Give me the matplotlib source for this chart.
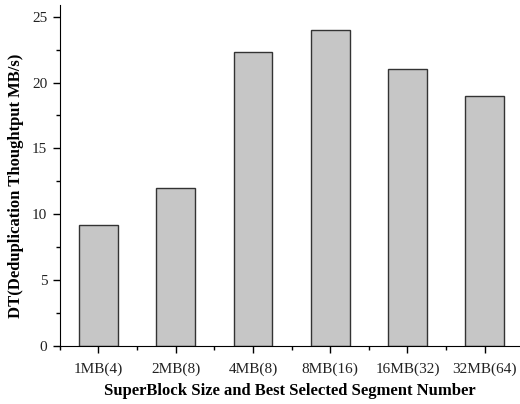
import matplotlib
matplotlib.use('Agg')
import matplotlib.pyplot as plt
from matplotlib.ticker import MultipleLocator, FixedLocator

categories = ['1MB(4)', '2MB(8)', '4MB(8)', '8MB(16)', '16MB(32)', '32MB(64)']
throughput = [9.15, 12.0, 22.3, 24.0, 21.0, 19.0]

plt.rcParams['font.family'] = ['Liberation Serif', 'DejaVu Serif']

fig = plt.figure(figsize=(5.2, 4.04), dpi=100)
ax = fig.add_axes([0.115, 0.144, 0.884, 0.844])

x = range(len(categories))
ax.bar(x, throughput, width=0.5, color='#c6c6c6', edgecolor='#333333', linewidth=1.0)

ax.set_xlim(-0.5, 5.45)
ax.set_ylim(0, 25.9)
ax.set_xticks(list(x))
ax.set_xticklabels(categories)
ax.xaxis.set_minor_locator(FixedLocator([i + 0.5 for i in range(-1, len(categories))]))
ax.yaxis.set_major_locator(MultipleLocator(5))
ax.yaxis.set_minor_locator(MultipleLocator(2.5))
ax.tick_params(axis='both', which='major', length=5, width=1, labelsize=11, pad=4,
               labelcolor='#222222')
ax.tick_params(axis='x', which='major', pad=7)
ax.tick_params(axis='both', which='minor', length=3, width=1)

ax.spines['top'].set_visible(False)
ax.spines['right'].set_visible(False)

ax.set_xlabel('SuperBlock Size and Best Selected Segment Number', fontsize=12, fontweight='bold', labelpad=5)
ax.set_ylabel('DT(Deduplication Thoughtput MB/s)', fontsize=12, fontweight='bold')
ax.yaxis.set_label_coords(-0.078, 0.47)

fig.savefig('out.png', dpi=100)
